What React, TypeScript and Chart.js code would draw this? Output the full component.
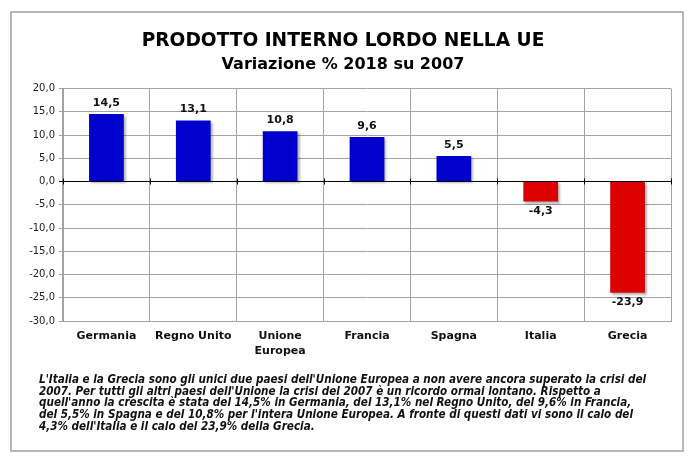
import React, { useEffect, useRef } from "react";
import { Chart, registerables } from "chart.js";

Chart.register(...registerables);

const categories = ["Germania", "Regno Unito", "Unione Europea", "Francia", "Spagna", "Italia", "Grecia"];
const values = [14.5, 13.1, 10.8, 9.6, 5.5, -4.3, -23.9];
const wrappedLabels = ["Unione Europea"];
const yMin = -30;
const yMax = 20;
const yStep = 5;
const titleText = "PRODOTTO INTERNO LORDO NELLA UE";
const subtitleText = "Variazione % 2018 su 2007";
const captionLines = [
  "L'Italia e la Grecia sono gli unici due paesi dell'Unione Europea a non avere ancora superato la crisi del",
  "2007. Per tutti gli altri paesi dell'Unione la crisi del 2007 è un ricordo ormai lontano. Rispetto a",
  "quell'anno la crescita è stata del 14,5% in Germania, del 13,1% nel Regno Unito, del 9,6% in Francia,",
  "del 5,5% in Spagna e del 10,8% per l'intera Unione Europea. A fronte di questi dati vi sono il calo del",
  "4,3% dell'Italia e il calo del 23,9% della Grecia.",
];

const BLUE = "#0000CC";
const RED = "#DD0000";
const GRID = "#A3A3A3";
const FONT = "'DejaVu Sans', Verdana, sans-serif";

const fmt = (v: number) => v.toFixed(1).replace(".", ",");

const framePlugin = {
  id: "frame",
  beforeDraw(chart: any) {
    const ctx = chart.ctx;
    ctx.save();
    ctx.fillStyle = "#ffffff";
    ctx.fillRect(0, 0, chart.width, chart.height);
    ctx.strokeStyle = "#A0A0A0";
    ctx.lineWidth = 1.5;
    ctx.strokeRect(11, 12, 672, 439);
    ctx.restore();
  },
};

const shadowPlugin = {
  id: "barShadow",
  beforeDatasetDraw(chart: any) {
    const ctx = chart.ctx;
    ctx.save();
    ctx.shadowColor = "rgba(0,0,0,0.28)";
    ctx.shadowOffsetX = 2;
    ctx.shadowOffsetY = 2;
    ctx.shadowBlur = 2;
  },
  afterDatasetDraw(chart: any) {
    chart.ctx.restore();
  },
};

const zeroTicksPlugin = {
  id: "zeroTicks",
  afterDatasetsDraw(chart: any) {
    const ctx = chart.ctx;
    const x = chart.scales.x;
    const y = chart.scales.y;
    const y0 = y.getPixelForValue(0);
    const n = categories.length;
    const w = (x.right - x.left) / n;
    ctx.save();
    ctx.strokeStyle = "#000";
    ctx.lineWidth = 1;
    ctx.beginPath();
    ctx.moveTo(x.left, y0);
    ctx.lineTo(x.right, y0);
    for (let i = 0; i <= n; i++) {
      const px = Math.round(x.left + i * w) + 0.5;
      ctx.moveTo(px, y0 - 3);
      ctx.lineTo(px, y0 + 3);
    }
    ctx.stroke();
    ctx.restore();
  },
};

const valueLabelPlugin = {
  id: "valueLabels",
  afterDatasetsDraw(chart: any) {
    const ctx = chart.ctx;
    const meta = chart.getDatasetMeta(0);
    ctx.save();
    ctx.font = `bold 11px ${FONT}`;
    ctx.fillStyle = "#111";
    ctx.textAlign = "center";
    ctx.textBaseline = "middle";
    meta.data.forEach((bar: any, i: number) => {
      const v = values[i];
      const yy = v >= 0 ? bar.y - 11 : bar.y + 10;
      ctx.fillText(fmt(v), bar.x, yy);
    });
    ctx.restore();
  },
};

export default function App() {
  const ref = useRef<HTMLCanvasElement | null>(null);

  useEffect(() => {
    if (!ref.current) return;
    const chart = new Chart(ref.current, {
      type: "bar",
      data: {
        labels: categories,
        datasets: [
          {
            data: values,
            backgroundColor: values.map((v) => (v >= 0 ? BLUE : RED)),
            borderWidth: 0,
            barPercentage: 0.4,
            categoryPercentage: 1,
          },
        ],
      },
      options: {
        animation: false,
        responsive: false,
        maintainAspectRatio: false,
        devicePixelRatio: 1,
        layout: { padding: { left: 15, right: 25, top: 0, bottom: 102 } },
        plugins: {
          legend: { display: false },
          tooltip: { enabled: false },
          title: {
            display: true,
            text: titleText,
            color: "#000",
            font: { family: FONT, size: 18.6, weight: "bold", lineHeight: 1.2 },
            padding: { top: 30, bottom: 0 },
          },
          subtitle: {
            display: true,
            text: subtitleText,
            color: "#000",
            font: { family: FONT, size: 16, weight: "bold", lineHeight: 1.2 },
            padding: { top: 3, bottom: 14 },
          },
        },
        scales: {
          x: {
            offset: true,
            grid: { display: true, offset: true, color: GRID, drawTicks: false },
            border: { display: true, color: GRID },
            ticks: {
              color: "#111",
              font: { family: FONT, size: 11, weight: "bold", lineHeight: 1.35 },
              padding: 8,
              maxRotation: 0,
              autoSkip: false,
              callback: function (this: any, val: any, idx: number) {
                const label = categories[idx];
                return wrappedLabels.includes(label) ? label.split(" ") : label;
              },
            },
            afterFit: (s: any) => {
              s.height = 40;
            },
          },
          y: {
            min: yMin,
            max: yMax,
            grid: {
              color: (c: any) => (c.tick && c.tick.value === 0 ? "#000" : GRID),
              tickLength: 4,
            },
            border: { display: true, color: GRID },
            ticks: {
              stepSize: yStep,
              color: "#222",
              font: { family: FONT, size: 10 },
              padding: 4,
              callback: (v: any) => fmt(Number(v)),
            },
            afterFit: (s: any) => {
              s.width = 48;
            },
          },
        },
      },
      plugins: [framePlugin, shadowPlugin, zeroTicksPlugin, valueLabelPlugin],
    });
    return () => chart.destroy();
  }, []);

  return (
    <div style={{ position: "fixed", left: 0, top: 0, width: 696, height: 463, background: "#fff" }}>
      <canvas ref={ref} width={696} height={463} style={{ display: "block", width: 696, height: 463 }} />
      <div
        style={{
          position: "absolute",
          left: 39,
          top: 374,
          fontFamily: "'Liberation Sans Narrow', 'DejaVu Sans Condensed', sans-serif",
          fontWeight: "bold",
          fontStyle: "italic",
          fontSize: 11.6,
          lineHeight: "11.7px",
          color: "#111",
        }}
      >
        {captionLines.map((l, i) => (
          <div key={i} style={{ whiteSpace: "nowrap" }}>
            {l}
          </div>
        ))}
      </div>
    </div>
  );
}
